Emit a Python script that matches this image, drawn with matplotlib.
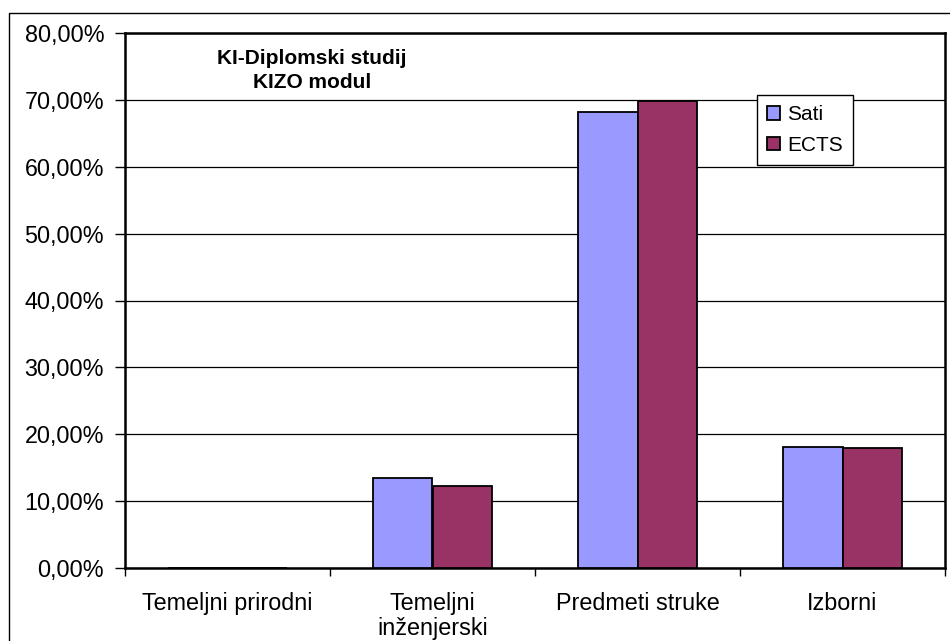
#Bar chart: KI-Diplomski studij, KIZO modul - share of hours and ECTS per group

import numpy as np
import matplotlib.pyplot as plt
from matplotlib.patches import Rectangle
from matplotlib.ticker import FuncFormatter

plt.rcParams['font.family'] = ['Liberation Sans', 'DejaVu Sans']

categories = ['Temeljni prirodni', 'Temeljni\ninženjerski', 'Predmeti struke', 'Izborni']
sati = [0.0, 13.5, 68.2, 18.1]
ects = [0.0, 12.25, 69.9, 17.9]
series_names = ['Sati', 'ECTS']
title_lines = 'KI-Diplomski studij\nKIZO modul'

fig = plt.figure(figsize=(9.5, 6.41), dpi=100)

#outer chart border
fig.patches.append(Rectangle((9/950., -0.01), 1.0, (641-13)/641. + 0.01,
	transform=fig.transFigure, fill=False, edgecolor='black', linewidth=1.0))

ax = fig.add_axes([125/950., (641-568)/641., (945-125)/950., (568-33)/641.])

x = np.arange(len(categories))
width = 0.29

bars1 = ax.bar(x - width/2, sati, width, color='#9999FF', edgecolor='black', linewidth=1.3, label=series_names[0], zorder=3)
bars2 = ax.bar(x + width/2, ects, width, color='#993366', edgecolor='black', linewidth=1.3, label=series_names[1], zorder=3)

ax.set_xlim(-0.5, len(categories) - 0.5)
ax.set_ylim(0, 80)
ax.set_yticks(np.arange(0, 81, 10))
ax.yaxis.set_major_formatter(FuncFormatter(lambda v, p: ('%.2f%%' % v).replace('.', ',')))
ax.yaxis.grid(True, color='black', linewidth=0.9, zorder=0)

ax.set_xticks(x)
ax.set_xticklabels(categories, fontsize=16.8, linespacing=1.15)
ax.set_xticks(np.arange(-0.5, len(categories), 1), minor=True)
ax.tick_params(axis='x', which='major', length=0, pad=17)
ax.tick_params(axis='x', which='minor', length=6, width=1, direction='out')
ax.tick_params(axis='y', labelsize=16.8, length=7, width=1, direction='out', pad=8)

for side in ['left', 'bottom', 'top', 'right']:
	ax.spines[side].set_linewidth(1.8)
	ax.spines[side].set_color('black')

ax.text(0.228, 0.93, title_lines, transform=ax.transAxes, ha='center', va='center',
	fontsize=15, fontweight='bold', linespacing=1.3)

leg = ax.legend(loc='upper left', bbox_to_anchor=((757-125)/820., (568-95)/535.),
	fontsize=15, frameon=True, fancybox=False, edgecolor='black', framealpha=1,
	handlelength=0.6, handleheight=0.6, handletextpad=0.35, borderpad=0.5,
	labelspacing=0.55, borderaxespad=0)
leg.get_frame().set_linewidth(1.0)

plt.savefig('out.png', dpi=100)
